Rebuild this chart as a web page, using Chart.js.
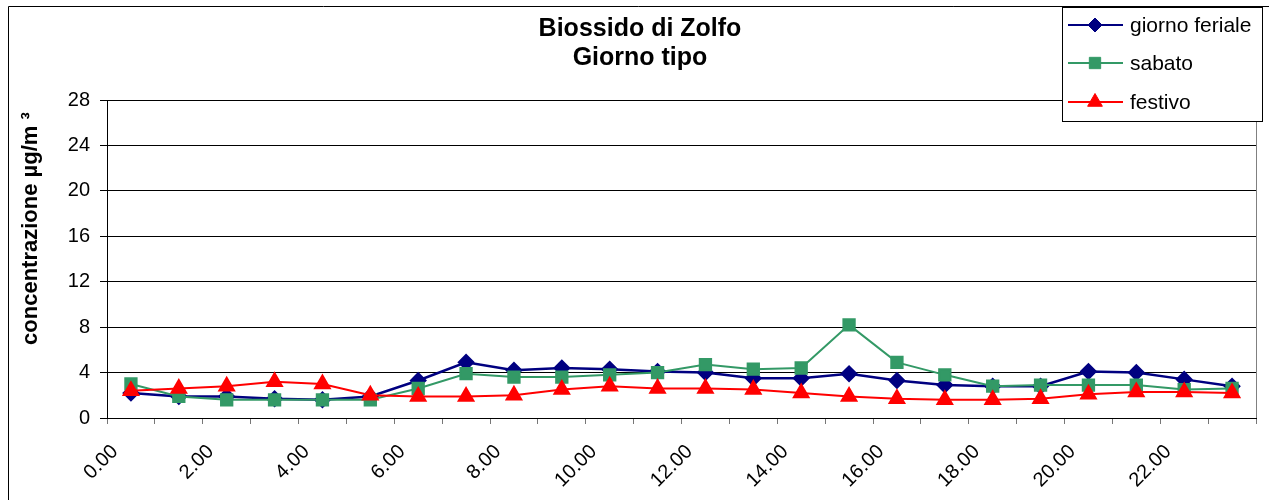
<!DOCTYPE html>
<html>
<head>
<meta charset="utf-8">
<title>Biossido di Zolfo - Giorno tipo</title>
<script src="https://cdn.jsdelivr.net/npm/chart.js@4.4.0/dist/chart.umd.min.js"></script>
<style>
    html, body { margin: 0; padding: 0; background: #fff; }
    canvas { display: block; }
</style>
</head>
<body>
<canvas id="so2Chart" width="1269" height="500"></canvas>
<script>
// categories (hour of day)
const hours = ['0.00', '1.00', '2.00', '3.00', '4.00', '5.00', '6.00', '7.00',
    '8.00', '9.00', '10.00', '11.00', '12.00', '13.00', '14.00', '15.00',
    '16.00', '17.00', '18.00', '19.00', '20.00', '21.00', '22.00', '23.00'];

// concentrazione µg/m3
const giornoFeriale = [2.2, 1.9, 1.9, 1.7, 1.6, 1.9, 3.3, 4.9, 4.2, 4.4, 4.3, 4.1,
    4.0, 3.5, 3.5, 3.9, 3.3, 2.9, 2.8, 2.8, 4.1, 4.0, 3.4, 2.8];
const sabato = [3.0, 1.9, 1.6, 1.6, 1.6, 1.6, 2.6, 3.9, 3.6, 3.6, 3.8, 4.0,
    4.7, 4.3, 4.4, 8.2, 4.9, 3.8, 2.8, 2.9, 2.9, 2.9, 2.5, 2.6];
const festivo = [2.4, 2.6, 2.8, 3.2, 3.0, 2.0, 1.9, 1.9, 2.0, 2.5, 2.8, 2.6,
    2.6, 2.5, 2.2, 1.9, 1.7, 1.6, 1.6, 1.7, 2.1, 2.3, 2.3, 2.2];

// y axis range
const yMin = 0;
const yMax = 28;
const yStep = 4;

const FONT = '"Liberation Sans", Arial, sans-serif';
Chart.defaults.font.family = FONT;
Chart.defaults.color = '#000';

// white background, outer frame and right border of the plot area
const framePlugin = {
    id: 'frame',
    beforeDraw(chart) {
        const ctx = chart.ctx;
        ctx.save();
        ctx.fillStyle = '#fff';
        ctx.fillRect(0, 0, chart.width, chart.height);
        ctx.strokeStyle = '#000';
        ctx.lineWidth = 1;
        ctx.beginPath();
        ctx.moveTo(8.5, chart.height);
        ctx.lineTo(8.5, 6.5);
        ctx.lineTo(chart.width, 6.5);
        ctx.stroke();
        ctx.restore();
    },
    beforeDatasetsDraw(chart) {
        const { ctx, chartArea } = chart;
        ctx.save();
        ctx.strokeStyle = '#808080';
        ctx.lineWidth = 1;
        ctx.beginPath();
        const x = Math.round(chartArea.right) + 0.5;
        ctx.moveTo(x, chartArea.top);
        ctx.lineTo(x, chartArea.bottom);
        ctx.stroke();
        ctx.restore();
    }
};

// boxed legend in the top right corner, over the plot
const boxLegendPlugin = {
    id: 'boxLegend',
    afterDraw(chart) {
        const ctx = chart.ctx;
        const box = { x: 1062.5, y: 7.5, w: 200, h: 114 };
        ctx.save();
        ctx.fillStyle = '#fff';
        ctx.strokeStyle = '#000';
        ctx.lineWidth = 1;
        ctx.fillRect(box.x, box.y, box.w, box.h);
        ctx.strokeRect(box.x, box.y, box.w, box.h);

        const rows = [25, 63, 102];
        chart.data.datasets.forEach((ds, i) => {
            const y = rows[i];
            ctx.strokeStyle = ds.borderColor;
            ctx.lineWidth = 2;
            ctx.beginPath();
            ctx.moveTo(1068, y);
            ctx.lineTo(1123, y);
            ctx.stroke();

            ctx.fillStyle = ds.pointBackgroundColor;
            ctx.strokeStyle = ds.pointBorderColor;
            ctx.lineWidth = 1;
            if (Chart.helpers && Chart.helpers.drawPoint) {
                Chart.helpers.drawPoint(ctx, {
                    pointStyle: ds.pointStyle,
                    radius: ds.pointRadius,
                    rotation: 0,
                    borderWidth: 1
                }, 1095, y);
            }

            ctx.fillStyle = '#000';
            ctx.font = '21px ' + FONT;
            ctx.textAlign = 'left';
            ctx.textBaseline = 'middle';
            ctx.fillText(ds.label, 1130, y + 1);
        });
        ctx.restore();
    }
};

new Chart(document.getElementById('so2Chart'), {
    type: 'line',
    data: {
        labels: hours,
        datasets: [
            {
                label: 'giorno feriale',
                data: giornoFeriale,
                borderColor: '#000080',
                backgroundColor: '#000080',
                pointBackgroundColor: '#000080',
                pointBorderColor: '#000080',
                pointStyle: 'rectRot',
                pointRadius: 7,
                borderWidth: 2.5,
                order: 2
            },
            {
                label: 'sabato',
                data: sabato,
                borderColor: '#339966',
                backgroundColor: '#339966',
                pointBackgroundColor: '#339966',
                pointBorderColor: '#339966',
                pointStyle: 'rect',
                pointRadius: 8,
                borderWidth: 2,
                order: 1
            },
            {
                label: 'festivo',
                data: festivo,
                borderColor: '#ff0000',
                backgroundColor: '#ff0000',
                pointBackgroundColor: '#ff0000',
                pointBorderColor: '#ff0000',
                pointStyle: 'triangle',
                pointRadius: 8.5,
                borderWidth: 2,
                order: 0
            }
        ]
    },
    options: {
        responsive: false,
        animation: false,
        devicePixelRatio: 1,
        // left/right padding chosen so the title centres at x=640 like the original
        layout: { padding: { left: 24, right: 13, top: 0, bottom: 0 } },
        plugins: {
            legend: { display: false },
            tooltip: { enabled: false },
            title: {
                display: true,
                text: ['Biossido di Zolfo', 'Giorno tipo'],
                color: '#000',
                font: { size: 25, weight: 'bold', lineHeight: 1.14 },
                padding: { top: 15, bottom: 28 }
            }
        },
        scales: {
            x: {
                offset: true,
                grid: { offset: true, drawOnChartArea: false, tickLength: 6, color: '#777' },
                border: { color: '#000' },
                ticks: {
                    autoSkip: false,
                    minRotation: 45,
                    maxRotation: 45,
                    padding: 16,
                    labelOffset: -16,
                    font: { size: 20 },
                    callback: function (val, i) {
                        return i % 2 === 0 ? this.getLabelForValue(val) : '';
                    }
                },
                afterFit: (scale) => { scale.height = 82; }
            },
            y: {
                min: yMin,
                max: yMax,
                ticks: { stepSize: yStep, padding: 10, font: { size: 20 } },
                grid: { color: '#000', tickLength: 7 },
                border: { color: '#000' },
                title: {
                    display: true,
                    align: 'end',
                    text: 'concentrazione µg/m ³  ',
                    font: { size: 22, weight: 'bold' },
                    padding: { top: -6, bottom: 0 }
                },
                afterFit: (scale) => { scale.width = 83; }
            }
        }
    },
    plugins: [framePlugin, boxLegendPlugin]
});
</script>
</body>
</html>
